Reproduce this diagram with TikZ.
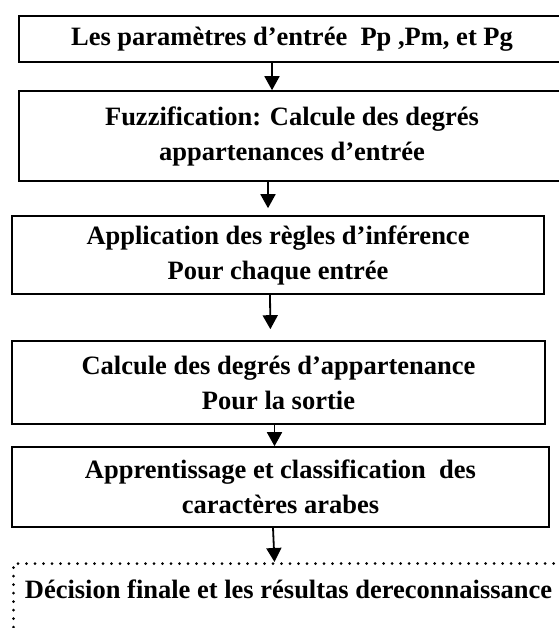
\documentclass[tikz,border=0pt]{standalone}
\usepackage{fontspec}
\setmainfont{Liberation Serif}
\usetikzlibrary{arrows.meta}

\tikzset{
  etape/.style={shape=rectangle,draw,line width=1.6pt,align=center,inner sep=0pt,
    font=\fontsize{26.5}{35}\selectfont\bfseries},
  fleche/.style={-{Triangle[length=14pt,width=15pt]},line width=1.8pt},
}

\begin{document}
\begin{tikzpicture}[x=1pt,y=-1pt]
	\useasboundingbox (0,0) rectangle (558,628);
	\node (params) at (292,39) [etape,minimum width=546pt,minimum height=46pt] {Les paramètres d’entrée\ \ Pp ,Pm, et Pg};
	\node (fuzz) at (292,136) [etape,minimum width=546pt,minimum height=90pt] {Fuzzification: Calcule des degrés\\appartenances d’entrée};
	\node (regles) at (278,255) [etape,minimum width=532pt,minimum height=78pt] {Application des règles d’inférence\\Pour chaque entrée};
	\node (sortie) at (278.5,382.5) [etape,minimum width=533pt,minimum height=83pt] {Calcule des degrés d’appartenance\\Pour la sortie};
	\node (classif) at (280.5,487) [etape,minimum width=537pt,minimum height=80pt] {Apprentissage et classification\ \ des\\caractères arabes};
	\node (decision) at (12,562) [anchor=north west,draw,dash pattern=on 0pt off 8.5pt,line cap=round,line width=3pt,
	  minimum width=550pt,inner xsep=0pt,inner ysep=11pt,text height=24pt,text depth=40pt,
	  font=\fontsize{26.5}{35}\selectfont\bfseries] {Décision finale et les résultas dereconnaissance};
	% fleches entre les etapes
	\draw [fleche] ([xshift=-20pt]params.south) -- ([xshift=-20pt]fuzz.north);
	\draw [fleche,shorten >=7pt] ([xshift=-24pt]fuzz.south) -- ([xshift=-10pt]regles.north);
	\draw [fleche,shorten >=11pt] ([xshift=-8pt]regles.south) -- ([xshift=-8pt]sortie.north);
	\draw [fleche] ([xshift=-4pt]sortie.south) -- ([xshift=-6pt]classif.north);
	\draw [fleche] ([xshift=-7.5pt]classif.south) -- ([xshift=-14pt]decision.north);
\end{tikzpicture}
\end{document}
